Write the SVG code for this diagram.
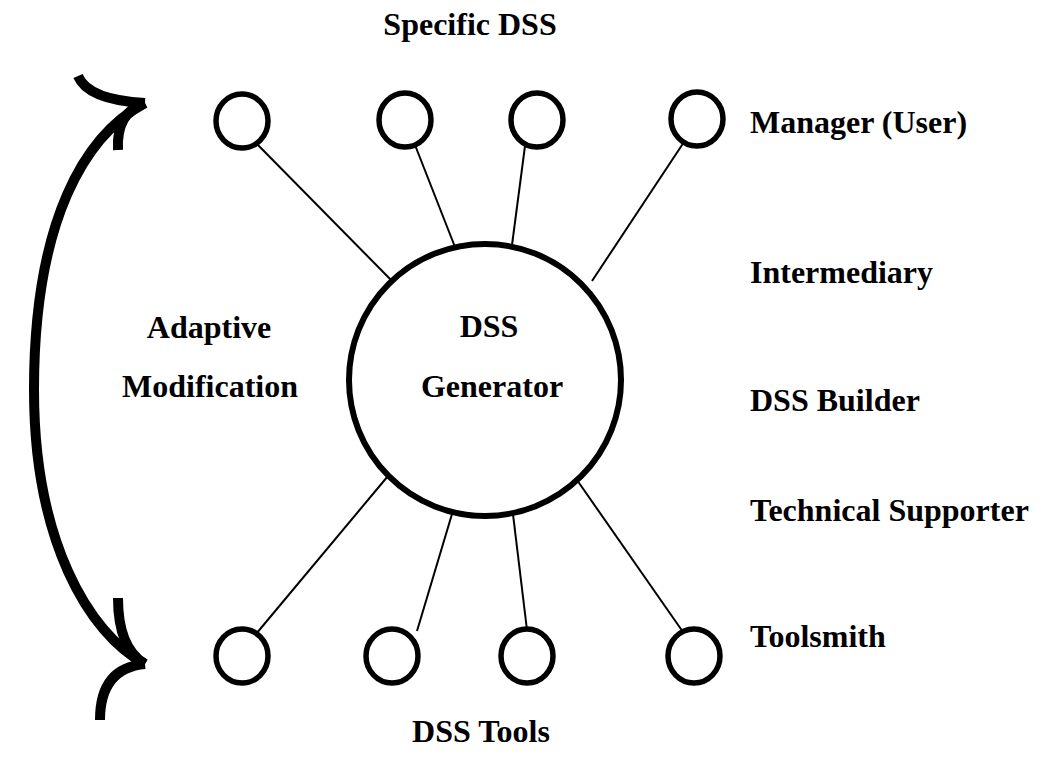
<svg xmlns="http://www.w3.org/2000/svg" width="1046" height="759" viewBox="0 0 1046 759">
<style>
text{font-family:"Liberation Serif","Times New Roman",serif;font-weight:bold;font-size:32px;fill:#000}
.c{text-anchor:middle}
.small{fill:#fff;stroke:#000;stroke-width:5.5}
.big{fill:#fff;stroke:#000;stroke-width:6}
.ln{stroke:#000;stroke-width:2;fill:none}
.arc{stroke:#000;stroke-width:10;fill:none;stroke-linecap:butt}
</style>
<rect width="1046" height="759" fill="#fff"/>
<g id="connectors">
<line class="ln" x1="256" y1="143" x2="393" y2="282"/>
<line class="ln" x1="415" y1="145" x2="455" y2="247"/>
<line class="ln" x1="525" y1="146" x2="512" y2="245"/>
<line class="ln" x1="684" y1="142" x2="592" y2="281"/>
<line class="ln" x1="393" y1="470" x2="256" y2="634"/>
<line class="ln" x1="455" y1="504" x2="417" y2="631"/>
<line class="ln" x1="512" y1="506" x2="527" y2="630"/>
<line class="ln" x1="577" y1="480" x2="683" y2="632"/>
</g>
<g id="adaptive-arrow">
<path class="arc" d="M145,103 C85,135 34,220 34,390 C34,540 88,633 145,664"/>
<path class="arc" d="M78,76 Q88,100 145,103"/>
<path class="arc" d="M118,150 Q116,112 145,103"/>
<path class="arc" d="M118,598 Q118,648 145,664"/>
<path class="arc" d="M145,664 Q100,668 100,720"/>
</g>
<g id="generator">
<circle class="big" cx="485" cy="380" r="136"/>
<text class="c" x="489" y="337">DSS</text>
<text class="c" x="492" y="397">Generator</text>
</g>
<g id="specific-dss">
<ellipse class="small" cx="242" cy="121" rx="26" ry="27"/>
<ellipse class="small" cx="405" cy="120" rx="26" ry="27"/>
<ellipse class="small" cx="537" cy="120" rx="26" ry="27"/>
<ellipse class="small" cx="697" cy="119" rx="26" ry="27"/>
</g>
<g id="dss-tools">
<ellipse class="small" cx="242" cy="656" rx="26" ry="27"/>
<ellipse class="small" cx="392" cy="656" rx="26" ry="27"/>
<ellipse class="small" cx="527" cy="656" rx="26" ry="27"/>
<ellipse class="small" cx="694" cy="656" rx="26" ry="27"/>
</g>
<g id="labels">
<text class="c" x="470" y="35">Specific DSS</text>
<text class="c" x="481" y="742">DSS Tools</text>
<text class="c" x="209" y="338">Adaptive</text>
<text class="c" x="210" y="397">Modification</text>
<text x="750" y="133">Manager (User)</text>
<text x="750" y="283">Intermediary</text>
<text x="750" y="411">DSS Builder</text>
<text x="750" y="521">Technical Supporter</text>
<text x="750" y="647">Toolsmith</text>
</g>
</svg>
